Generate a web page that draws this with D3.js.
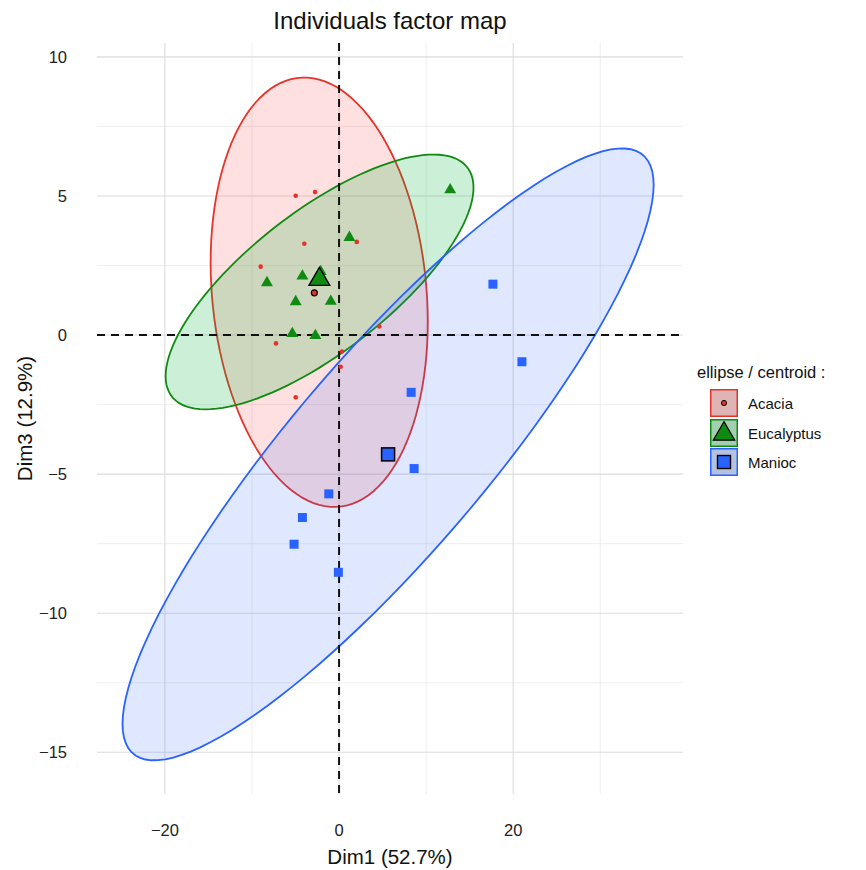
<!DOCTYPE html>
<html>
<head>
<meta charset="utf-8">
<script src="https://cdn.jsdelivr.net/npm/d3@7"></script>
<style>
  body { margin: 0; background: #fff; }
  text { font-family: "Liberation Sans", Arial, sans-serif; }
</style>
</head>
<body>
<svg width="866" height="870"></svg>
<script>
// data ======================================================

var groups = ["Acacia", "Eucalyptus", "Manioc"];

var acaciaX = [-4.98, -2.76, -3.99, 2.03, -9.0, -7.24, 4.63, 0.34, 0.19, -4.98];
var acaciaY = [5.01, 5.14, 3.28, 3.35, 2.46, -0.30, 0.31, -0.59, -1.14, -2.24];

var eucalyptusX = [1.19, -2.11, -4.21, -8.28, -4.98, -0.95, -5.37, -2.72, 12.76];
var eucalyptusY = [3.51, 2.28, 2.12, 1.88, 1.20, 1.21, 0.05, -0.02, 5.22];

var maniocX = [21.0, 8.28, 8.62, -1.18, -4.21, -5.17, -0.08, 17.67];
var maniocY = [-0.96, -2.06, -4.80, -5.71, -6.56, -7.52, -8.53, 1.83];

// group centroids
var centroidX = [-2.84, -2.26, 5.63];
var centroidY = [1.52, 2.0, -4.29];

// ellipses: centre, half extents and correlation
var ellCx = [-2.28, -2.24, 5.63];
var ellCy = [1.54, 1.91, -4.29];
var ellAx = [12.47, 17.68, 30.5];
var ellAy = [7.72, 4.58, 11.0];
var ellRho = [-0.138, 0.74, 0.881];

var xMajor = [-20, 0, 20];
var xMinor = [-10, 10, 30];
var yMajor = [-15, -10, -5, 0, 5, 10];
var yMinor = [-12.5, -7.5, -2.5, 2.5, 7.5];

var strokeCol = ["#E5332A", "#118A11", "#2962FF"];
var fillCol = ["#FF0000", "#00B437", "#2962FF"];
var fillOp = [0.12, 0.2, 0.15];

// setup =====================================================

var svg = d3.select("svg");
var pLeft = 97, pRight = 683, pTop = 43, pBottom = 794;

var x = d3.scaleLinear().domain([-27.8, 39.5]).range([pLeft, pRight]);
var y = d3.scaleLinear().domain([-16.5, 10.5]).range([pBottom, pTop]);

// grid
var grid = svg.append("g");
grid.selectAll(".xmin").data(xMinor).enter().append("line")
  .attr("x1", d => x(d)).attr("x2", d => x(d)).attr("y1", pTop).attr("y2", pBottom)
  .attr("stroke", "#ebebeb").attr("stroke-width", 0.8);
grid.selectAll(".ymin").data(yMinor).enter().append("line")
  .attr("y1", d => y(d)).attr("y2", d => y(d)).attr("x1", pLeft).attr("x2", pRight)
  .attr("stroke", "#ebebeb").attr("stroke-width", 0.8);
grid.selectAll(".xmaj").data(xMajor).enter().append("line")
  .attr("x1", d => x(d)).attr("x2", d => x(d)).attr("y1", pTop).attr("y2", pBottom)
  .attr("stroke", "#dcdcdc").attr("stroke-width", 1.1);
grid.selectAll(".ymaj").data(yMajor).enter().append("line")
  .attr("y1", d => y(d)).attr("y2", d => y(d)).attr("x1", pLeft).attr("x2", pRight)
  .attr("stroke", "#dcdcdc").attr("stroke-width", 1.1);

// ellipses
function ellipsePoints(i) {
  var pts = [];
  var s = Math.sqrt(1 - ellRho[i] * ellRho[i]);
  for (var k = 0; k < 120; k++) {
    var t = k / 120 * 2 * Math.PI;
    pts.push([ellCx[i] + ellAx[i] * Math.cos(t),
              ellCy[i] + ellAy[i] * (ellRho[i] * Math.cos(t) + s * Math.sin(t))]);
  }
  return pts;
}
var line = d3.line().x(d => x(d[0])).y(d => y(d[1])).curve(d3.curveLinearClosed);

svg.append("g").selectAll("path").data(groups).enter().append("path")
  .attr("d", (d, i) => line(ellipsePoints(i)))
  .attr("fill", (d, i) => fillCol[i])
  .attr("fill-opacity", (d, i) => fillOp[i])
  .attr("stroke", (d, i) => strokeCol[i])
  .attr("stroke-width", 1.8);

// reference lines
svg.append("line").attr("x1", x(0)).attr("x2", x(0)).attr("y1", pTop).attr("y2", pBottom)
  .attr("stroke", "#111").attr("stroke-width", 2).attr("stroke-dasharray", "8,6");
svg.append("line").attr("y1", y(0)).attr("y2", y(0)).attr("x1", pLeft).attr("x2", pRight)
  .attr("stroke", "#111").attr("stroke-width", 2).attr("stroke-dasharray", "8,6");

// points
var acacia = d3.zip(acaciaX, acaciaY);
var eucalyptus = d3.zip(eucalyptusX, eucalyptusY);
var manioc = d3.zip(maniocX, maniocY);

svg.append("g").selectAll("circle").data(acacia).enter().append("circle")
  .attr("cx", d => x(d[0])).attr("cy", d => y(d[1])).attr("r", 2.3)
  .attr("fill", strokeCol[0]);

var tri = d3.symbol().type(d3.symbolTriangle).size(62);
svg.append("g").selectAll("path").data(eucalyptus).enter().append("path")
  .attr("d", tri)
  .attr("transform", d => "translate(" + x(d[0]) + "," + y(d[1]) + ")")
  .attr("fill", strokeCol[1]);

svg.append("g").selectAll("rect").data(manioc).enter().append("rect")
  .attr("x", d => x(d[0]) - 4.5).attr("y", d => y(d[1]) - 4.5)
  .attr("width", 9).attr("height", 9)
  .attr("fill", strokeCol[2]);

// centroids
var cg = svg.append("g");
cg.append("circle")
  .attr("cx", x(centroidX[0])).attr("cy", y(centroidY[0])).attr("r", 3)
  .attr("fill", strokeCol[0]).attr("stroke", "#000").attr("stroke-width", 1.2);
cg.append("path")
  .attr("d", d3.symbol().type(d3.symbolTriangle).size(190)())
  .attr("transform", "translate(" + x(centroidX[1]) + "," + y(centroidY[1]) + ")")
  .attr("fill", strokeCol[1]).attr("stroke", "#000").attr("stroke-width", 1.3);
cg.append("rect")
  .attr("x", x(centroidX[2]) - 6.5).attr("y", y(centroidY[2]) - 6.5)
  .attr("width", 13).attr("height", 13)
  .attr("fill", strokeCol[2]).attr("stroke", "#000").attr("stroke-width", 1.5);

// axes labels
svg.append("g").selectAll("text").data(xMajor).enter().append("text")
  .attr("x", d => x(d)).attr("y", 836)
  .attr("text-anchor", "middle").attr("font-size", 16.5).attr("fill", "#222")
  .text(d => String(d).replace("-", "\u2212"));
svg.append("g").selectAll("text").data(yMajor).enter().append("text")
  .attr("x", 67).attr("y", d => y(d) + 6)
  .attr("text-anchor", "end").attr("font-size", 16.5).attr("fill", "#222")
  .text(d => String(d).replace("-", "\u2212"));

svg.append("text").attr("x", (pLeft + pRight) / 2).attr("y", 29)
  .attr("text-anchor", "middle").attr("font-size", 24).attr("fill", "#111")
  .text("Individuals factor map");
svg.append("text").attr("x", (pLeft + pRight) / 2).attr("y", 864)
  .attr("text-anchor", "middle").attr("font-size", 20.5).attr("fill", "#111")
  .text("Dim1 (52.7%)");
svg.append("text").attr("transform", "translate(32," + ((pTop + pBottom) / 2) + ") rotate(-90)")
  .attr("text-anchor", "middle").attr("font-size", 20.5).attr("fill", "#111")
  .text("Dim3 (12.9%)");

// legend
var lg = svg.append("g").attr("transform", "translate(697,0)");
lg.append("text").attr("x", 0).attr("y", 378).attr("font-size", 16.5).attr("fill", "#111")
  .text("ellipse / centroid :");
var keyTop = [389, 419, 448];
groups.forEach(function(g, i) {
  var k = lg.append("g").attr("transform", "translate(13," + keyTop[i] + ")");
  k.append("rect").attr("width", 28).attr("height", 28).attr("fill", "#d9d9d9");
  k.append("rect").attr("x", 0.75).attr("y", 0.75).attr("width", 26.5).attr("height", 26.5)
    .attr("fill", fillCol[i]).attr("fill-opacity", fillOp[i] + 0.05)
    .attr("stroke", strokeCol[i]).attr("stroke-width", 1.5);
  k.append("text").attr("x", 38).attr("y", 19.5).attr("font-size", 15).attr("fill", "#111").text(g);
});
lg.append("circle").attr("cx", 13 + 14).attr("cy", keyTop[0] + 14).attr("r", 2.6)
  .attr("fill", strokeCol[0]).attr("stroke", "#000").attr("stroke-width", 1);
lg.append("path").attr("d", d3.symbol().type(d3.symbolTriangle).size(200)())
  .attr("transform", "translate(" + (13 + 14) + "," + (keyTop[1] + 15) + ")")
  .attr("fill", strokeCol[1]).attr("stroke", "#000").attr("stroke-width", 1.2);
lg.append("rect").attr("x", 13 + 7.5).attr("y", keyTop[2] + 7.5).attr("width", 13).attr("height", 13)
  .attr("fill", strokeCol[2]).attr("stroke", "#000").attr("stroke-width", 1.4);
</script>
</body>
</html>
